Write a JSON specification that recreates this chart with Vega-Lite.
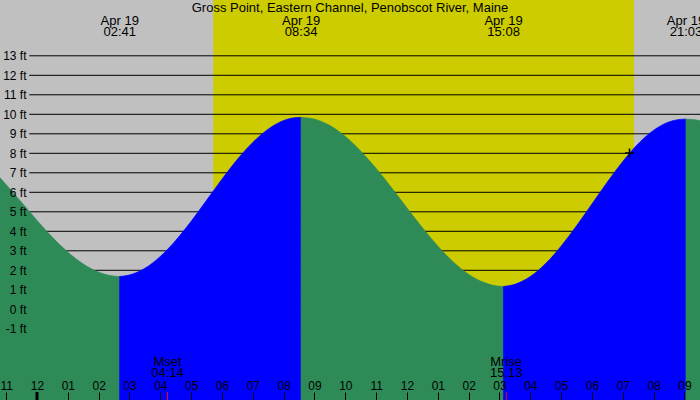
{
  "$schema": "https://vega.github.io/schema/vega-lite/v6.json",
  "width": 700,
  "height": 400,
  "autosize": {"type": "none"},
  "padding": 0,
  "background": "#c0c0c0",
  "config": {"view": {"stroke": null}, "font": "Liberation Sans"},
  "datasets": {
    "sky": [
      {"start": "2024-04-18T22:00", "end": "2024-04-19T05:43", "period": "night"},
      {"start": "2024-04-19T05:43", "end": "2024-04-19T19:22", "period": "day"},
      {"start": "2024-04-19T19:22", "end": "2024-04-19T22:00", "period": "night"}
    ],
    "levels": [
      {"ft": -1}, {"ft": 0}, {"ft": 1}, {"ft": 2}, {"ft": 3}, {"ft": 4}, {"ft": 5}, {"ft": 6},
      {"ft": 7}, {"ft": 8}, {"ft": 9}, {"ft": 10}, {"ft": 11}, {"ft": 12}, {"ft": 13}
    ],
    "tide": [
      {"time": "2024-04-18T22:45", "h": 6.83, "seg": "A", "dir": "falling"},
      {"time": "2024-04-18T23:00", "h": 6.39, "seg": "A", "dir": "falling"},
      {"time": "2024-04-18T23:30", "h": 5.48, "seg": "A", "dir": "falling"},
      {"time": "2024-04-19T00:00", "h": 4.56, "seg": "A", "dir": "falling"},
      {"time": "2024-04-19T00:30", "h": 3.69, "seg": "A", "dir": "falling"},
      {"time": "2024-04-19T01:00", "h": 2.93, "seg": "A", "dir": "falling"},
      {"time": "2024-04-19T01:30", "h": 2.32, "seg": "A", "dir": "falling"},
      {"time": "2024-04-19T02:00", "h": 1.90, "seg": "A", "dir": "falling"},
      {"time": "2024-04-19T02:30", "h": 1.70, "seg": "A", "dir": "falling"},
      {"time": "2024-04-19T02:41", "h": 1.68, "seg": "A", "dir": "falling"},
      {"time": "2024-04-19T02:41", "h": 1.68, "seg": "B", "dir": "rising"},
      {"time": "2024-04-19T03:00", "h": 1.76, "seg": "B", "dir": "rising"},
      {"time": "2024-04-19T03:30", "h": 2.10, "seg": "B", "dir": "rising"},
      {"time": "2024-04-19T04:00", "h": 2.71, "seg": "B", "dir": "rising"},
      {"time": "2024-04-19T04:30", "h": 3.53, "seg": "B", "dir": "rising"},
      {"time": "2024-04-19T05:00", "h": 4.51, "seg": "B", "dir": "rising"},
      {"time": "2024-04-19T05:30", "h": 5.59, "seg": "B", "dir": "rising"},
      {"time": "2024-04-19T06:00", "h": 6.67, "seg": "B", "dir": "rising"},
      {"time": "2024-04-19T06:30", "h": 7.69, "seg": "B", "dir": "rising"},
      {"time": "2024-04-19T07:00", "h": 8.56, "seg": "B", "dir": "rising"},
      {"time": "2024-04-19T07:30", "h": 9.24, "seg": "B", "dir": "rising"},
      {"time": "2024-04-19T08:00", "h": 9.68, "seg": "B", "dir": "rising"},
      {"time": "2024-04-19T08:30", "h": 9.84, "seg": "B", "dir": "rising"},
      {"time": "2024-04-19T08:34", "h": 9.84, "seg": "B", "dir": "rising"},
      {"time": "2024-04-19T08:34", "h": 9.84, "seg": "C", "dir": "falling"},
      {"time": "2024-04-19T09:00", "h": 9.75, "seg": "C", "dir": "falling"},
      {"time": "2024-04-19T09:30", "h": 9.42, "seg": "C", "dir": "falling"},
      {"time": "2024-04-19T10:00", "h": 8.86, "seg": "C", "dir": "falling"},
      {"time": "2024-04-19T10:30", "h": 8.11, "seg": "C", "dir": "falling"},
      {"time": "2024-04-19T11:00", "h": 7.22, "seg": "C", "dir": "falling"},
      {"time": "2024-04-19T11:30", "h": 6.23, "seg": "C", "dir": "falling"},
      {"time": "2024-04-19T12:00", "h": 5.19, "seg": "C", "dir": "falling"},
      {"time": "2024-04-19T12:30", "h": 4.18, "seg": "C", "dir": "falling"},
      {"time": "2024-04-19T13:00", "h": 3.24, "seg": "C", "dir": "falling"},
      {"time": "2024-04-19T13:30", "h": 2.43, "seg": "C", "dir": "falling"},
      {"time": "2024-04-19T14:00", "h": 1.79, "seg": "C", "dir": "falling"},
      {"time": "2024-04-19T14:30", "h": 1.37, "seg": "C", "dir": "falling"},
      {"time": "2024-04-19T15:00", "h": 1.18, "seg": "C", "dir": "falling"},
      {"time": "2024-04-19T15:08", "h": 1.17, "seg": "C", "dir": "falling"},
      {"time": "2024-04-19T15:08", "h": 1.17, "seg": "D", "dir": "rising"},
      {"time": "2024-04-19T15:30", "h": 1.28, "seg": "D", "dir": "rising"},
      {"time": "2024-04-19T16:00", "h": 1.68, "seg": "D", "dir": "rising"},
      {"time": "2024-04-19T16:30", "h": 2.35, "seg": "D", "dir": "rising"},
      {"time": "2024-04-19T17:00", "h": 3.24, "seg": "D", "dir": "rising"},
      {"time": "2024-04-19T17:30", "h": 4.28, "seg": "D", "dir": "rising"},
      {"time": "2024-04-19T18:00", "h": 5.40, "seg": "D", "dir": "rising"},
      {"time": "2024-04-19T18:30", "h": 6.53, "seg": "D", "dir": "rising"},
      {"time": "2024-04-19T19:00", "h": 7.58, "seg": "D", "dir": "rising"},
      {"time": "2024-04-19T19:30", "h": 8.49, "seg": "D", "dir": "rising"},
      {"time": "2024-04-19T20:00", "h": 9.18, "seg": "D", "dir": "rising"},
      {"time": "2024-04-19T20:30", "h": 9.61, "seg": "D", "dir": "rising"},
      {"time": "2024-04-19T21:00", "h": 9.75, "seg": "D", "dir": "rising"},
      {"time": "2024-04-19T21:03", "h": 9.75, "seg": "D", "dir": "rising"},
      {"time": "2024-04-19T21:03", "h": 9.75, "seg": "E", "dir": "falling"},
      {"time": "2024-04-19T21:20", "h": 9.72, "seg": "E", "dir": "falling"},
      {"time": "2024-04-19T21:35", "h": 9.63, "seg": "E", "dir": "falling"}
    ],
    "extremes": [
      {"time": "2024-04-19T02:41", "label": "Apr 19\n02:41"},
      {"time": "2024-04-19T08:34", "label": "Apr 19\n08:34"},
      {"time": "2024-04-19T15:08", "label": "Apr 19\n15:08"},
      {"time": "2024-04-19T21:03", "label": "Apr 19\n21:03"}
    ],
    "moon": [
      {"time": "2024-04-19T04:14", "label": "Mset\n04:14"},
      {"time": "2024-04-19T15:13", "label": "Mrise\n15:13"}
    ],
    "midnight": [
      {"time": "2024-04-19T00:00"}
    ],
    "now": [
      {"time": "2024-04-19T19:13", "h": 8.02}
    ],
    "heading": [
      {"title": "Gross Point, Eastern Channel, Penobscot River, Maine"}
    ]
  },
  "layer": [
    {
      "data": {"name": "sky"},
      "mark": {"type": "rect", "clip": true},
      "encoding": {
        "x": {
          "field": "start", "type": "temporal", "title": null,
          "scale": {"domain": [
            {"year": 2024, "month": 4, "date": 18, "hours": 22, "minutes": 48},
            {"year": 2024, "month": 4, "date": 19, "hours": 21, "minutes": 30, "seconds": 11}
          ]},
          "axis": {
            "orient": "bottom", "offset": -8, "domain": false, "grid": false,
            "tickCount": 100,
            "values": [
              {"year": 2024, "month": 4, "date": 18, "hours": 23},
              {"year": 2024, "month": 4, "date": 19, "hours": 0},
              {"year": 2024, "month": 4, "date": 19, "hours": 1},
              {"year": 2024, "month": 4, "date": 19, "hours": 2},
              {"year": 2024, "month": 4, "date": 19, "hours": 3},
              {"year": 2024, "month": 4, "date": 19, "hours": 4},
              {"year": 2024, "month": 4, "date": 19, "hours": 5},
              {"year": 2024, "month": 4, "date": 19, "hours": 6},
              {"year": 2024, "month": 4, "date": 19, "hours": 7},
              {"year": 2024, "month": 4, "date": 19, "hours": 8},
              {"year": 2024, "month": 4, "date": 19, "hours": 9},
              {"year": 2024, "month": 4, "date": 19, "hours": 10},
              {"year": 2024, "month": 4, "date": 19, "hours": 11},
              {"year": 2024, "month": 4, "date": 19, "hours": 12},
              {"year": 2024, "month": 4, "date": 19, "hours": 13},
              {"year": 2024, "month": 4, "date": 19, "hours": 14},
              {"year": 2024, "month": 4, "date": 19, "hours": 15},
              {"year": 2024, "month": 4, "date": 19, "hours": 16},
              {"year": 2024, "month": 4, "date": 19, "hours": 17},
              {"year": 2024, "month": 4, "date": 19, "hours": 18},
              {"year": 2024, "month": 4, "date": 19, "hours": 19},
              {"year": 2024, "month": 4, "date": 19, "hours": 20},
              {"year": 2024, "month": 4, "date": 19, "hours": 21}
            ],
            "format": "%I",
            "tickSize": 8, "tickColor": "black", "tickWidth": 1,
            "labelPadding": -10.5, "labelBaseline": "alphabetic", "labelFontSize": 12,
            "labelFont": "Liberation Sans", "labelColor": "black", "labelFlush": false,
            "labelOverlap": false, "labelBound": false, "zindex": 1
          }
        },
        "x2": {"field": "end"},
        "color": {
          "field": "period", "type": "nominal", "legend": null,
          "scale": {"domain": ["night", "day"], "range": ["#c0c0c0", "#cccc00"]}
        }
      }
    },
    {
      "data": {"name": "levels"},
      "mark": {"type": "rule", "color": "black", "strokeWidth": 1, "clip": true},
      "encoding": {
        "x": {"datum": {"year": 2024, "month": 4, "date": 18, "hours": 23, "minutes": 45}, "type": "temporal"},
        "x2": {"datum": {"year": 2024, "month": 4, "date": 19, "hours": 22}},
        "y": {
          "field": "ft", "type": "quantitative", "title": null,
          "scale": {"domain": [-4.651, 15.862], "nice": false, "zero": false},
          "axis": {
            "orient": "left", "offset": -29, "domain": false, "ticks": false, "grid": false,
            "tickCount": 100,
            "values": [-1, 0, 1, 2, 3, 4, 5, 6, 7, 8, 9, 10, 11, 12, 13],
            "labelExpr": "datum.value + ' ft'", "labelPadding": 3, "labelFontSize": 12,
            "labelFont": "Liberation Sans", "labelColor": "black", "labelBaseline": "middle",
            "labelFlush": false, "labelOverlap": false, "labelBound": false, "zindex": 1
          }
        }
      }
    },
    {
      "data": {"name": "tide"},
      "mark": {"type": "area", "interpolate": "monotone", "clip": true, "strokeWidth": 0.8},
      "encoding": {
        "x": {"field": "time", "type": "temporal", "title": null},
        "y": {"field": "h", "type": "quantitative", "title": null},
        "y2": {"datum": -5},
        "detail": {"field": "seg"},
        "color": {
          "field": "dir", "type": "nominal", "legend": null,
          "scale": {"domain": ["falling", "rising"], "range": ["#2e8b57", "#0000ff"]}
        },
        "stroke": {
          "field": "dir", "type": "nominal", "legend": null,
          "scale": {"domain": ["falling", "rising"], "range": ["#2e8b57", "#0000ff"]}
        }
      }
    },
    {
      "data": {"name": "heading"},
      "mark": {"type": "text", "x": {"expr": "width / 2"}, "fontSize": 13, "font": "Liberation Sans", "color": "black", "align": "center", "baseline": "alphabetic"},
      "encoding": {
        "y": {"datum": 15.25},
        "text": {"field": "title"}
      }
    },
    {
      "data": {"name": "extremes"},
      "mark": {"type": "text", "fontSize": 13, "font": "Liberation Sans", "color": "black", "align": "center", "baseline": "alphabetic", "lineBreak": "\n", "lineHeight": 11},
      "encoding": {
        "x": {"field": "time", "type": "temporal", "title": null},
        "y": {"datum": 14.58},
        "text": {"field": "label"}
      }
    },
    {
      "data": {"name": "moon"},
      "mark": {"type": "text", "fontSize": 13, "font": "Liberation Sans", "color": "black", "align": "center", "baseline": "alphabetic", "lineBreak": "\n", "lineHeight": 11},
      "encoding": {
        "x": {"field": "time", "type": "temporal", "title": null},
        "y": {"datum": -2.908},
        "text": {"field": "label"}
      }
    },
    {
      "data": {"name": "moon"},
      "mark": {"type": "rule", "color": "red", "strokeWidth": 1},
      "encoding": {
        "x": {"field": "time", "type": "temporal", "title": null},
        "y": {"datum": -4.24},
        "y2": {"datum": -4.651}
      }
    },
    {
      "data": {"name": "midnight"},
      "mark": {"type": "rule", "color": "black", "strokeWidth": 3},
      "encoding": {
        "x": {"field": "time", "type": "temporal", "title": null},
        "y": {"datum": -4.24},
        "y2": {"datum": -4.651}
      }
    },
    {
      "data": {"name": "now"},
      "mark": {"type": "point", "shape": "M-1,0L1,0M0,-1L0,1", "size": 81, "filled": false, "stroke": "black", "strokeWidth": 1.5, "opacity": 1},
      "encoding": {
        "x": {"field": "time", "type": "temporal", "title": null},
        "y": {"field": "h", "type": "quantitative", "title": null}
      }
    }
  ],
  "resolve": {"scale": {"color": "independent", "stroke": "independent"}}
}
